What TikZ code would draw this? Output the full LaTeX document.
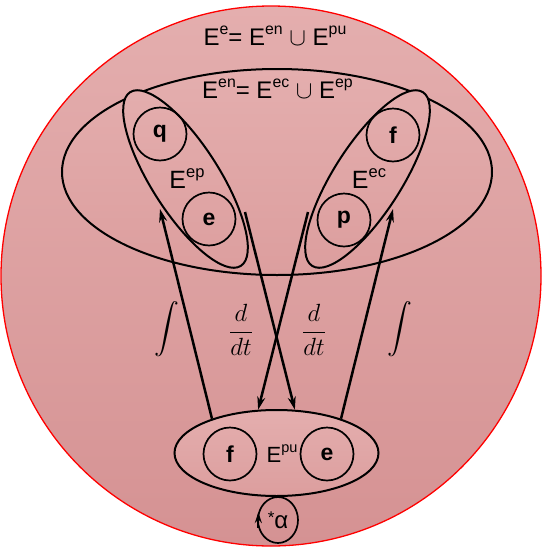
\documentclass[tikz,border=0pt]{standalone}
\usepackage{fontspec}
\setmainfont{Liberation Sans}
\usepackage{amsmath}
\usetikzlibrary{arrows.meta,positioning,shapes.geometric}
\definecolor{roselight}{RGB}{228,174,174}
\definecolor{rosemid}{RGB}{220,158,158}
\definecolor{rosedark}{RGB}{213,146,147}
\newcommand{\up}[1]{\raisebox{.42em}{\scalebox{.66}{#1}}}
\tikzset{
  world/.style ={circle,draw=red,line width=1.3pt,top color=roselight,bottom color=rosedark,minimum size=540pt,inner sep=0pt},
  blob/.style  ={ellipse,draw,line width=2pt,inner sep=0pt,top color=roselight,bottom color=rosemid},
  elem/.style  ={circle,draw,line width=1.7pt,minimum size=53pt,inner sep=0pt,font=\bfseries\fontsize{23}{26}\selectfont},
  flow/.style  ={-{Stealth[length=13pt,width=8pt]},line width=2.5pt},
  lbl/.style   ={font=\fontsize{24}{28}\selectfont,inner sep=0pt,anchor=base},
  setlbl/.style={font=\fontsize{25}{30}\selectfont,inner sep=0pt,anchor=base},
  ops/.style   ={font=\fontsize{23}{27}\selectfont,inner sep=0pt},
}

\begin{document}
\begin{tikzpicture}[x=1pt,y=-1pt]
  \useasboundingbox (0,0) rectangle (542,547);
  % outer set E^e
  \node[world] (ee) at (271,276) {};
  \node[lbl] (tee) at (275,45) {E\up{e}= E\up{en} $\cup$ E\up{pu}};
  % E^en
  \node[blob,minimum width=430pt,minimum height=206pt] (en) at (277,172) {};
  \node[lbl] (ten) at (277.5,98) {E\up{en}= E\up{ec} $\cup$ E\up{ep}};
  % E^ep and E^ec
  \node[blob,minimum width=206pt,minimum height=68pt,rotate=-57.5] (ep) at (185.5,179) {};
  \node[blob,minimum width=206pt,minimum height=68pt,rotate=57.5]  (ec) at (367.5,179) {};
  \node[setlbl] (tep) at (187,188) {E\up{ep}};
  \node[setlbl] (tec) at (369,188) {E\up{ec}};
  \node[elem] (q)  at (160,134) {q};
  \node[elem] (e1) at (209,219) {e};
  \node[elem] (f1) at (393,135) {f};
  \node[elem] (p)  at (344,220) {p};
  % E^pu
  \node[blob,minimum width=204pt,minimum height=86pt] (pu) at (276.5,453) {};
  \node[setlbl,font=\fontsize{22}{26}\selectfont] (tpu) at (282,462) {E\up{pu}};
  \node[elem] (f2) at (230,454) {f};
  \node[elem] (e2) at (327,454) {e};
  % loop
  \node[ellipse,draw,line width=1.7pt,minimum width=40pt,minimum height=46pt,inner sep=0pt,
        font=\fontsize{24}{26}\selectfont] (lp) at (278,520) {\raisebox{5pt}{\fontsize{17}{18}\selectfont*}α};
  \draw[-{Stealth[length=11pt,width=7pt]},line width=1.7pt] (lp.202) -- (lp.158);
  % flows
  \coordinate (epin)  at (160,209);
  \coordinate (epout) at (245,212);
  \coordinate (ecout) at (308,212);
  \coordinate (ecin)  at (393,209);
  \draw[flow] (pu.152) -- (epin);
  \draw[flow] (epout) -- (pu.67);
  \draw[flow] (ecout) -- (pu.113);
  \draw[flow] (pu.28) -- (ecin);
  % operators
  \node[ops] (i1) at (167,329) {$\displaystyle\int$};
  \node[ops] (d1) at (241,330) {$\dfrac{d}{dt}$};
  \node[ops] (d2) at (314,330) {$\dfrac{d}{dt}$};
  \node[ops] (i2) at (400,329) {$\displaystyle\int$};
\end{tikzpicture}
\end{document}
